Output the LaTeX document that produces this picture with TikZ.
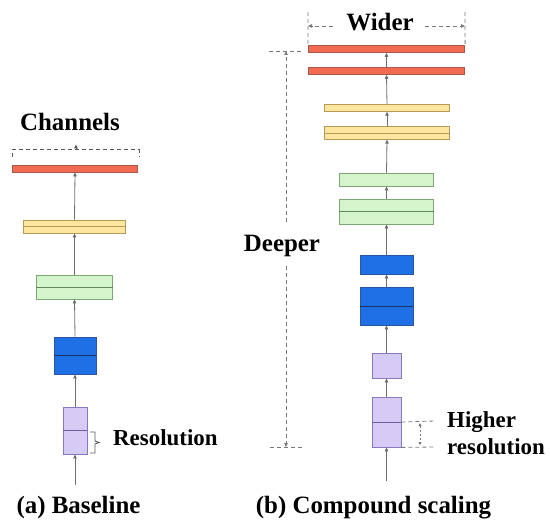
\documentclass[tikz,border=0pt]{standalone}
\usepackage{fontspec}
\setmainfont{Liberation Serif}
\usetikzlibrary{arrows.meta}
\definecolor{redF}{HTML}{F26A4F}
\definecolor{redD}{HTML}{A85A4C}
\definecolor{yelF}{HTML}{FCE59E}
\definecolor{yelD}{HTML}{B89A58}
\definecolor{grnF}{HTML}{D4F5CB}
\definecolor{grnD}{HTML}{7DA874}
\definecolor{bluF}{HTML}{1F6FE5}
\definecolor{bluD}{HTML}{2A55A0}
\definecolor{purF}{HTML}{D5CBF5}
\definecolor{purD}{HTML}{8878C0}
\definecolor{flowG}{HTML}{6E6E6E}
\definecolor{dimG}{HTML}{7A7A7A}
\begin{document}
\begin{tikzpicture}[x=1bp,y=-1bp,
    layer/.style={draw,line width=0.8bp,inner sep=0pt,minimum width=#1},
    redbar/.style={layer=#1,fill=redF,draw=redD},
    yelbar/.style={layer=#1,fill=yelF,draw=yelD},
    grnbar/.style={layer=#1,fill=grnF,draw=grnD},
    blubar/.style={layer=#1,fill=bluF,draw=bluD},
    purbar/.style={layer=#1,fill=purF,draw=purD},
    flow/.style={draw=flowG,line width=0.8bp,-{Triangle[length=4bp,width=3.5bp]}},
    dim/.style={draw=dimG,line width=0.8bp,dash pattern=on 4bp off 3bp},
    tip/.style={-{Triangle[length=4bp,width=3.5bp]}},
    big/.style={font=\fontsize{25}{30}\selectfont\bfseries,inner sep=0pt},
    small/.style={font=\fontsize{23}{27}\selectfont\bfseries,inner sep=0pt}]
    \useasboundingbox (0,0) rectangle (550,532);
    % (a) baseline
    \node[redbar=126,minimum height=7bp] (redA) at (75,168.5) {};
    \node[yelbar=103,minimum height=13bp] (yelA) at (74.5,226.5) {};
    \node[grnbar=77,minimum height=24bp] (grnA) at (74.5,287) {};
    \node[blubar=42,minimum height=37bp] (bluA) at (75,355.5) {};
    \node[purbar=24,minimum height=47bp] (purA) at (75,430.5) {};
    \draw[yelD] (yelA.west) -- (yelA.east);
    \draw[grnD!80!black] (grnA.west) -- (grnA.east);
    \draw[bluD!60!black] (bluA.west) -- (bluA.east);
    \draw[purD!80!black] (purA.west) -- (purA.east);
    \coordinate (inA) at (75,485);
    \draw[flow] (inA) -- (purA.south);
    \draw[flow] (purA.north) -- (bluA.south);
    \draw[flow] (bluA.north) -- (grnA.south);
    \draw[flow] (grnA.north) -- (yelA.south);
    \draw[flow] (yelA.north) -- (redA.south);
    % channels bracket
    \node[big] (chan) at (70,122) {Channels};
    \draw[dim,draw=black!65,line width=1bp] (12,157) -- (12,150) -- (139,150) -- (139,157);
    \draw[black!65,line width=0.9bp,tip] (76,150.5) -- (76,144.5);
    % resolution brace
    \draw[black!65,line width=0.9bp] (90,432) -- (95,432) -- (95,441) -- (99,442.5)
        -- (95,444) -- (95,453) -- (90,453);
    \node[small,anchor=west] (res) at (113,438) {Resolution};
    % (b) compound scaling
    \node[redbar=157,minimum height=7bp] (redB1) at (386.5,49) {};
    \node[redbar=157,minimum height=7bp] (redB2) at (386.5,71) {};
    \node[yelbar=126,minimum height=6.5bp] (yelB1) at (387,108) {};
    \node[yelbar=126,minimum height=12.5bp] (yelB2) at (387,133) {};
    \node[grnbar=95,minimum height=13bp] (grnB1) at (386.5,179.5) {};
    \node[grnbar=95,minimum height=25bp] (grnB2) at (386.5,211.5) {};
    \node[blubar=53,minimum height=19bp] (bluB1) at (386.5,264.5) {};
    \node[blubar=53,minimum height=38bp] (bluB2) at (386.5,306) {};
    \node[purbar=29,minimum height=25bp] (purB1) at (386.5,365.5) {};
    \node[purbar=29,minimum height=50bp] (purB2) at (386.5,422) {};
    \draw[yelD] (yelB2.west) -- (yelB2.east);
    \draw[grnD!80!black] (grnB2.west) -- (grnB2.east);
    \draw[bluD!60!black] (bluB2.west) -- (bluB2.east);
    \draw[purD!80!black] (purB2.west) -- (purB2.east);
    \coordinate (inB) at (386.5,481);
    \draw[flow] (inB) -- (purB2.south);
    \draw[flow] (purB2.north) -- (purB1.south);
    \draw[flow] (purB1.north) -- (bluB2.south);
    \draw[flow] (bluB2.north) -- (bluB1.south);
    \draw[flow] (bluB1.north) -- (grnB2.south);
    \draw[flow] (grnB2.north) -- (grnB1.south);
    \draw[flow] (grnB1.north) -- (yelB2.south);
    \draw[flow] (yelB2.north) -- (yelB1.south);
    \draw[flow] (yelB1.north) -- (redB2.south);
    \draw[flow] (redB2.north) -- (redB1.south);
    % wider
    \node[big] (wider) at (380,22) {Wider};
    \coordinate (wL) at (308,12);
    \coordinate (wR) at (465,12);
    \draw[dim] (wL) -- (redB1.north west);
    \draw[dim] (wR) -- (redB1.north east);
    \draw[dim,tip] (333,26) -- (308,26);
    \draw[dim,tip] (425,26) -- (465,26);
    % deeper
    \node[big] (deeper) at (282,246) {Deeper};
    \coordinate (dT) at (286,51);
    \coordinate (dB) at (286,447);
    \draw[dim] (269,51) -- (302,51);
    \draw[dim] (270,447) -- (302,447);
    \draw[dim,tip] (286,222) -- (dT);
    \draw[dim,tip] (286,266) -- (dB);
    % higher resolution
    \coordinate (hT) at (435,421);
    \coordinate (hB) at (435,447);
    \draw[dim] (purB2.east) -- (hT);
    \draw[dim] (purB2.south east) -- (hB);
    \draw[dim,dash pattern=on 2bp off 2bp,{Triangle[length=3bp,width=3bp]}-{Triangle[length=3bp,width=3bp]}] (420,423) -- (420,445);
    \node[small,anchor=west,align=left] (hres) at (447,433.5) {Higher\\resolution};
    % captions
    \node[big] (capA) at (78.5,508) {(a) Baseline};
    \node[big] (capB) at (373.5,508) {(b) Compound scaling};
\end{tikzpicture}
\end{document}
